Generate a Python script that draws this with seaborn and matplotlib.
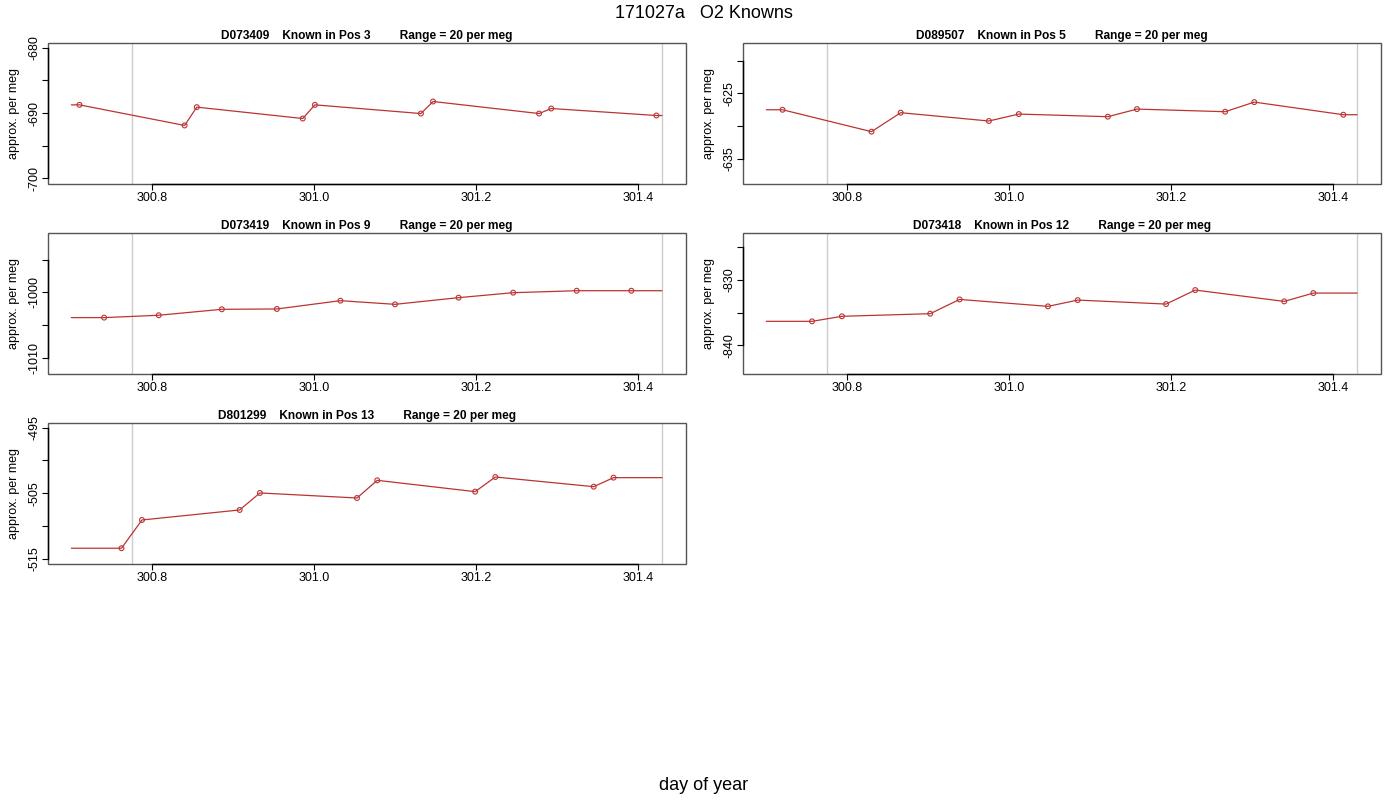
import numpy as np
import pandas as pd
import matplotlib
matplotlib.use("Agg")
import matplotlib.pyplot as plt
from matplotlib.patches import Rectangle
import seaborn as sns

# ---------------- data ----------------
suptitle = "171027a   O2 Knowns"
xlabel = "day of year"
ylabel = "approx. per meg"

panel_ids = ["D073409", "D089507", "D073419", "D073418", "D801299"]
panel_pos = [3, 5, 9, 12, 13]
range_per_meg = 20

x_start = 300.70       # beginning of run window (line extended flat)
x_end = 301.43         # end of run window
window_lines = [300.775, 301.43]
x_ticks = [300.8, 301.0, 301.2, 301.4]

x_d073409 = [300.710, 300.840, 300.855, 300.986, 301.001, 301.132, 301.147, 301.278, 301.293, 301.423]
y_d073409 = [-688.75, -691.90, -689.10, -690.84, -688.75, -690.08, -688.24, -690.08, -689.31, -690.38]

x_d089507 = [300.720, 300.830, 300.866, 300.975, 301.012, 301.122, 301.158, 301.267, 301.303, 301.413]
y_d089507 = [-627.49, -630.84, -627.94, -629.21, -628.15, -628.55, -627.39, -627.79, -626.32, -628.25]

x_d073419 = [300.7405, 300.808, 300.886, 300.954, 301.0325, 301.100, 301.1785, 301.246, 301.3245, 301.392]
y_d073419 = [-1003.86, -1003.50, -1002.59, -1002.54, -1001.27, -1001.83, -1000.81, -1000.05, -999.75, -999.75]

x_d073418 = [300.7565, 300.7934, 300.9025, 300.9388, 301.048, 301.0848, 301.194, 301.230, 301.340, 301.376]
y_d073418 = [-836.35, -835.58, -835.18, -833.00, -834.06, -833.10, -833.71, -831.57, -833.30, -832.03]

x_d801299 = [300.762, 300.7873, 300.908, 300.933, 301.053, 301.078, 301.199, 301.224, 301.3455, 301.370]
y_d801299 = [-513.42, -509.10, -507.57, -504.97, -505.74, -503.04, -504.77, -502.53, -504.01, -502.63]

y_centers = [-690.05, -628.04, -1001.68, -833.60, -505.03]
y_ticks = [
    [-700, -695, -690, -685, -680],
    [-635, -630, -625, -620],
    [-1010, -1005, -1000, -995],
    [-840, -835, -830, -825],
    [-515, -510, -505, -500, -495],
]

xs_all = [x_d073409, x_d089507, x_d073419, x_d073418, x_d801299]
ys_all = [y_d073409, y_d089507, y_d073419, y_d073418, y_d801299]

# ---------------- style ----------------
sns.set_theme(style="white")
plt.rcParams["font.family"] = ["Liberation Sans", "DejaVu Sans"]

W, H = 1400, 800
fig = plt.figure(figsize=(W / 100, H / 100), dpi=100)

col_left = [47.7, 742.7]
row_top = [42.7, 232.7, 422.7]
ax_w, ax_h = 638.0, 141.3
line_col = "#bb3434"

for i in range(5):
    r, c = divmod(i, 2)
    left = col_left[c] / W
    bottom = 1 - (row_top[r] + ax_h) / H
    ax = fig.add_axes([left, bottom, ax_w / W, ax_h / H])
    ax.set_facecolor("white")

    xs = list(xs_all[i])
    ys = list(ys_all[i])
    line_df = pd.DataFrame({"x": [x_start] + xs + [x_end],
                            "y": [ys[0]] + ys + [ys[-1]]})
    pts_df = pd.DataFrame({"x": xs, "y": ys})

    for wl in window_lines:
        ax.axvline(wl, color="#cccccc", lw=1.0, zorder=1)

    sns.lineplot(data=line_df, x="x", y="y", ax=ax, color=line_col, lw=0.9,
                 sort=False, estimator=None, zorder=3)
    sns.scatterplot(data=pts_df, x="x", y="y", ax=ax, marker="o", s=12,
                    facecolors="none", edgecolor=line_col, linewidth=0.8, zorder=4)

    span = x_end - x_start
    ax.set_xlim(x_start - 0.04 * span, x_end + 0.04 * span)
    yc = y_centers[i]
    half = range_per_meg / 2
    ax.set_ylim(yc - half * 1.08, yc + half * 1.08)

    ax.set_xticks(x_ticks)
    ax.set_xticklabels([f"{t:.1f}" for t in x_ticks])
    yt = y_ticks[i]
    ax.set_yticks(yt)
    ax.set_yticklabels([str(t) if k % 2 == 0 else "" for k, t in enumerate(yt)],
                       rotation=90, va="center")

    ax.tick_params(axis="both", which="major", direction="out", length=4,
                   width=0.8, color="black", labelsize=9, labelcolor="black",
                   bottom=True, left=True)
    ax.tick_params(axis="x", pad=2)
    ax.tick_params(axis="y", pad=1)

    for s in ["top", "right"]:
        ax.spines[s].set_visible(False)
    ax.spines["bottom"].set_bounds(x_ticks[0], x_ticks[-1])
    ax.spines["left"].set_bounds(yt[0], yt[-1])
    for s in ["bottom", "left"]:
        ax.spines[s].set_color("black")
        ax.spines[s].set_linewidth(1.0)
        ax.spines[s].set_zorder(6)
    ax.add_patch(Rectangle((0, 0), 1, 1, transform=ax.transAxes, fill=False,
                           edgecolor="#555555", lw=1.0, zorder=5, clip_on=False))

    ax.set_xlabel("")
    ax.set_ylabel(ylabel, fontsize=9, color="black")
    ax.yaxis.set_label_coords(-0.043, 0.5)
    ax.set_title(f"{panel_ids[i]}    Known in Pos {panel_pos[i]}         Range = {range_per_meg} per meg",
                 fontsize=8.6, fontweight="bold", pad=3, color="black")

fig.text(704 / W, 1 - 13 / H, suptitle, ha="center", va="center", fontsize=13, color="black")
fig.text(704 / W, 1 - 785 / H, xlabel, ha="center", va="center", fontsize=13, color="black")

fig.savefig("out.png", dpi=100)
